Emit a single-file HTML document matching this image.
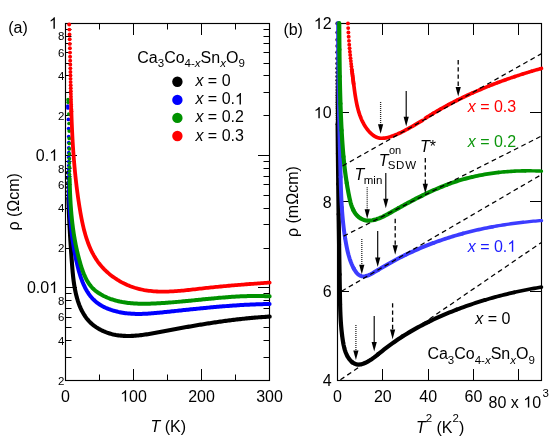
<!DOCTYPE html>
<html><head><meta charset="utf-8"><title>fig</title>
<style>html,body{margin:0;padding:0;background:#fff}body{width:556px;height:441px;overflow:hidden;position:relative;font-family:"Liberation Sans",sans-serif}</style></head>
<body>
<svg width="556" height="441" viewBox="0 0 556 441" style="position:absolute;left:0;top:0;will-change:transform">
<rect width="556" height="441" fill="#fff"/>
<g>
<rect x="65.50" y="23.50" width="204.00" height="357.00" fill="none" stroke="#000" stroke-width="1.15"/>
<line x1="133.50" y1="380.50" x2="133.50" y2="369.00" stroke="#000" stroke-width="1"/>
<line x1="133.50" y1="23.50" x2="133.50" y2="35.00" stroke="#000" stroke-width="1"/>
<line x1="201.50" y1="380.50" x2="201.50" y2="369.00" stroke="#000" stroke-width="1"/>
<line x1="201.50" y1="23.50" x2="201.50" y2="35.00" stroke="#000" stroke-width="1"/>
<line x1="99.50" y1="380.50" x2="99.50" y2="374.50" stroke="#000" stroke-width="1"/>
<line x1="99.50" y1="23.50" x2="99.50" y2="29.50" stroke="#000" stroke-width="1"/>
<line x1="167.50" y1="380.50" x2="167.50" y2="374.50" stroke="#000" stroke-width="1"/>
<line x1="167.50" y1="23.50" x2="167.50" y2="29.50" stroke="#000" stroke-width="1"/>
<line x1="235.50" y1="380.50" x2="235.50" y2="374.50" stroke="#000" stroke-width="1"/>
<line x1="235.50" y1="23.50" x2="235.50" y2="29.50" stroke="#000" stroke-width="1"/>
<line x1="65.50" y1="23.50" x2="77.00" y2="23.50" stroke="#000" stroke-width="1"/>
<line x1="269.50" y1="23.50" x2="258.00" y2="23.50" stroke="#000" stroke-width="1"/>
<line x1="65.50" y1="155.50" x2="77.00" y2="155.50" stroke="#000" stroke-width="1"/>
<line x1="269.50" y1="155.50" x2="258.00" y2="155.50" stroke="#000" stroke-width="1"/>
<line x1="65.50" y1="115.50" x2="71.50" y2="115.50" stroke="#000" stroke-width="1"/>
<line x1="269.50" y1="115.50" x2="263.50" y2="115.50" stroke="#000" stroke-width="1"/>
<line x1="65.50" y1="92.50" x2="71.50" y2="92.50" stroke="#000" stroke-width="1"/>
<line x1="269.50" y1="92.50" x2="263.50" y2="92.50" stroke="#000" stroke-width="1"/>
<line x1="65.50" y1="75.50" x2="71.50" y2="75.50" stroke="#000" stroke-width="1"/>
<line x1="269.50" y1="75.50" x2="263.50" y2="75.50" stroke="#000" stroke-width="1"/>
<line x1="65.50" y1="63.50" x2="71.50" y2="63.50" stroke="#000" stroke-width="1"/>
<line x1="269.50" y1="63.50" x2="263.50" y2="63.50" stroke="#000" stroke-width="1"/>
<line x1="65.50" y1="52.50" x2="71.50" y2="52.50" stroke="#000" stroke-width="1"/>
<line x1="269.50" y1="52.50" x2="263.50" y2="52.50" stroke="#000" stroke-width="1"/>
<line x1="65.50" y1="43.50" x2="71.50" y2="43.50" stroke="#000" stroke-width="1"/>
<line x1="269.50" y1="43.50" x2="263.50" y2="43.50" stroke="#000" stroke-width="1"/>
<line x1="65.50" y1="36.50" x2="71.50" y2="36.50" stroke="#000" stroke-width="1"/>
<line x1="269.50" y1="36.50" x2="263.50" y2="36.50" stroke="#000" stroke-width="1"/>
<line x1="65.50" y1="29.50" x2="71.50" y2="29.50" stroke="#000" stroke-width="1"/>
<line x1="269.50" y1="29.50" x2="263.50" y2="29.50" stroke="#000" stroke-width="1"/>
<line x1="65.50" y1="287.50" x2="77.00" y2="287.50" stroke="#000" stroke-width="1"/>
<line x1="269.50" y1="287.50" x2="258.00" y2="287.50" stroke="#000" stroke-width="1"/>
<line x1="65.50" y1="248.50" x2="71.50" y2="248.50" stroke="#000" stroke-width="1"/>
<line x1="269.50" y1="248.50" x2="263.50" y2="248.50" stroke="#000" stroke-width="1"/>
<line x1="65.50" y1="224.50" x2="71.50" y2="224.50" stroke="#000" stroke-width="1"/>
<line x1="269.50" y1="224.50" x2="263.50" y2="224.50" stroke="#000" stroke-width="1"/>
<line x1="65.50" y1="208.50" x2="71.50" y2="208.50" stroke="#000" stroke-width="1"/>
<line x1="269.50" y1="208.50" x2="263.50" y2="208.50" stroke="#000" stroke-width="1"/>
<line x1="65.50" y1="195.50" x2="71.50" y2="195.50" stroke="#000" stroke-width="1"/>
<line x1="269.50" y1="195.50" x2="263.50" y2="195.50" stroke="#000" stroke-width="1"/>
<line x1="65.50" y1="184.50" x2="71.50" y2="184.50" stroke="#000" stroke-width="1"/>
<line x1="269.50" y1="184.50" x2="263.50" y2="184.50" stroke="#000" stroke-width="1"/>
<line x1="65.50" y1="176.50" x2="71.50" y2="176.50" stroke="#000" stroke-width="1"/>
<line x1="269.50" y1="176.50" x2="263.50" y2="176.50" stroke="#000" stroke-width="1"/>
<line x1="65.50" y1="168.50" x2="71.50" y2="168.50" stroke="#000" stroke-width="1"/>
<line x1="269.50" y1="168.50" x2="263.50" y2="168.50" stroke="#000" stroke-width="1"/>
<line x1="65.50" y1="161.50" x2="71.50" y2="161.50" stroke="#000" stroke-width="1"/>
<line x1="269.50" y1="161.50" x2="263.50" y2="161.50" stroke="#000" stroke-width="1"/>
<line x1="65.50" y1="380.50" x2="71.50" y2="380.50" stroke="#000" stroke-width="1"/>
<line x1="269.50" y1="380.50" x2="263.50" y2="380.50" stroke="#000" stroke-width="1"/>
<line x1="65.50" y1="357.50" x2="71.50" y2="357.50" stroke="#000" stroke-width="1"/>
<line x1="269.50" y1="357.50" x2="263.50" y2="357.50" stroke="#000" stroke-width="1"/>
<line x1="65.50" y1="340.50" x2="71.50" y2="340.50" stroke="#000" stroke-width="1"/>
<line x1="269.50" y1="340.50" x2="263.50" y2="340.50" stroke="#000" stroke-width="1"/>
<line x1="65.50" y1="327.50" x2="71.50" y2="327.50" stroke="#000" stroke-width="1"/>
<line x1="269.50" y1="327.50" x2="263.50" y2="327.50" stroke="#000" stroke-width="1"/>
<line x1="65.50" y1="317.50" x2="71.50" y2="317.50" stroke="#000" stroke-width="1"/>
<line x1="269.50" y1="317.50" x2="263.50" y2="317.50" stroke="#000" stroke-width="1"/>
<line x1="65.50" y1="308.50" x2="71.50" y2="308.50" stroke="#000" stroke-width="1"/>
<line x1="269.50" y1="308.50" x2="263.50" y2="308.50" stroke="#000" stroke-width="1"/>
<line x1="65.50" y1="300.50" x2="71.50" y2="300.50" stroke="#000" stroke-width="1"/>
<line x1="269.50" y1="300.50" x2="263.50" y2="300.50" stroke="#000" stroke-width="1"/>
<line x1="65.50" y1="293.50" x2="71.50" y2="293.50" stroke="#000" stroke-width="1"/>
<line x1="269.50" y1="293.50" x2="263.50" y2="293.50" stroke="#000" stroke-width="1"/>
<circle cx="67.74" cy="172.70" r="1.90" fill="#000000"/><circle cx="67.83" cy="178.00" r="1.90" fill="#000000"/><circle cx="67.93" cy="183.00" r="1.90" fill="#000000"/><circle cx="68.04" cy="187.50" r="1.90" fill="#000000"/><circle cx="68.15" cy="191.50" r="1.90" fill="#000000"/><circle cx="68.25" cy="195.00" r="1.90" fill="#000000"/><circle cx="68.35" cy="198.00" r="1.90" fill="#000000"/>
<path d="M68.36,198.49 L68.41,199.82 L68.46,201.14 L68.50,202.47 L68.55,203.80 L68.60,205.12 L68.65,206.45 L68.71,207.77 L68.76,209.10 L68.82,210.42 L68.87,211.75 L68.93,213.07 L68.99,214.39 L69.05,215.72 L69.11,217.04 L69.17,218.36 L69.24,219.68 L69.30,221.00 L69.37,222.33 L69.44,223.65 L69.50,224.97 L69.57,226.29 L69.64,227.61 L69.72,228.93 L69.79,230.26 L69.86,231.58 L69.94,232.90 L70.02,234.22 L70.09,235.54 L70.17,236.87 L70.25,238.19 L70.33,239.51 L70.41,240.84 L70.50,242.16 L70.58,243.49 L70.67,244.81 L70.75,246.14 L70.84,247.46 L70.93,248.79 L71.02,250.12 L71.11,251.45 L71.20,252.78 L71.30,254.11 L71.39,255.44 L71.49,256.77 L71.58,258.10 L71.68,259.43 L71.78,260.77 L71.88,262.11 L71.98,263.44 L72.08,264.78 L72.18,266.12 L72.29,267.46 L72.40,268.80 L72.51,270.14 L72.63,271.48 L72.75,272.83 L72.88,274.17 L73.01,275.52 L73.16,276.87 L73.31,278.22 L73.47,279.57 L73.64,280.92 L73.83,282.27 L74.02,283.63 L74.23,284.98 L74.45,286.34 L74.68,287.69 L74.93,289.05 L75.19,290.40 L75.47,291.75 L75.77,293.10 L76.08,294.44 L76.41,295.78 L76.76,297.11 L77.13,298.43 L77.52,299.74 L77.92,301.05 L78.35,302.34 L78.80,303.62 L79.27,304.89 L79.77,306.14 L80.29,307.38 L80.83,308.60 L81.40,309.80 L81.99,310.99 L82.61,312.15 L83.25,313.30 L83.92,314.42 L84.62,315.52 L85.35,316.60 L86.11,317.66 L86.90,318.69 L87.72,319.69 L88.56,320.66 L89.45,321.61 L90.36,322.52 L91.30,323.41 L92.28,324.27 L93.28,325.09 L94.31,325.89 L95.37,326.65 L96.45,327.39 L97.55,328.09 L98.68,328.77 L99.82,329.41 L100.99,330.02 L102.17,330.60 L103.37,331.16 L104.58,331.67 L105.80,332.16 L107.04,332.62 L108.29,333.05 L109.54,333.44 L110.81,333.81 L112.08,334.14 L113.35,334.44 L114.63,334.71 L115.91,334.96 L117.20,335.17 L118.50,335.36 L119.80,335.52 L121.10,335.65 L122.41,335.76 L123.72,335.85 L125.03,335.91 L126.35,335.95 L127.67,335.96 L129.00,335.96 L130.32,335.94 L131.65,335.89 L132.98,335.83 L134.32,335.75 L135.66,335.66 L137.00,335.55 L138.34,335.42 L139.68,335.28 L141.02,335.13 L142.37,334.96 L143.71,334.78 L145.06,334.59 L146.41,334.39 L147.75,334.19 L149.10,333.97 L150.45,333.74 L151.80,333.51 L153.14,333.27 L154.49,333.03 L155.84,332.78 L157.18,332.53 L158.53,332.28 L159.87,332.03 L161.21,331.77 L162.55,331.51 L163.89,331.26 L165.22,331.00 L166.56,330.75 L167.89,330.50 L169.22,330.25 L170.55,330.00 L171.87,329.75 L173.20,329.50 L174.52,329.25 L175.84,329.01 L177.16,328.76 L178.48,328.52 L179.80,328.28 L181.12,328.04 L182.43,327.80 L183.75,327.56 L185.06,327.32 L186.37,327.09 L187.69,326.86 L189.00,326.63 L190.31,326.40 L191.62,326.17 L192.92,325.94 L194.23,325.72 L195.54,325.49 L196.85,325.27 L198.15,325.05 L199.46,324.83 L200.76,324.62 L202.07,324.40 L203.37,324.19 L204.68,323.98 L205.98,323.77 L207.29,323.56 L208.59,323.36 L209.90,323.15 L211.20,322.95 L212.51,322.75 L213.82,322.56 L215.12,322.36 L216.43,322.17 L217.74,321.98 L219.04,321.79 L220.35,321.60 L221.66,321.42 L222.97,321.24 L224.28,321.06 L225.59,320.88 L226.90,320.71 L228.21,320.54 L229.53,320.37 L230.84,320.20 L232.16,320.04 L233.47,319.87 L234.79,319.72 L236.11,319.56 L237.43,319.40 L238.76,319.25 L240.08,319.10 L241.40,318.96 L242.73,318.82 L244.06,318.67 L245.39,318.54 L246.72,318.40 L248.06,318.27 L249.39,318.14 L250.73,318.02 L252.07,317.89 L253.41,317.77 L254.75,317.65 L256.10,317.54 L257.45,317.43 L258.80,317.32 L260.15,317.22 L261.51,317.11 L262.86,317.02 L264.22,316.92 L265.59,316.83 L266.95,316.74 L268.32,316.66 L269.69,316.57" fill="none" stroke="#000000" stroke-width="4.10" stroke-linecap="round" stroke-linejoin="round"/>
<circle cx="67.82" cy="106.10" r="1.85" fill="#0000ff"/><circle cx="67.92" cy="108.00" r="1.85" fill="#0000ff"/><circle cx="68.40" cy="119.40" r="1.85" fill="#0000ff"/><circle cx="68.62" cy="128.50" r="1.85" fill="#0000ff"/><circle cx="68.73" cy="136.50" r="1.85" fill="#0000ff"/><circle cx="68.77" cy="142.50" r="1.85" fill="#0000ff"/><circle cx="68.79" cy="147.80" r="1.85" fill="#0000ff"/><circle cx="68.79" cy="152.70" r="1.85" fill="#0000ff"/><circle cx="68.79" cy="157.30" r="1.85" fill="#0000ff"/><circle cx="68.79" cy="161.60" r="1.85" fill="#0000ff"/><circle cx="68.79" cy="165.60" r="1.85" fill="#0000ff"/><circle cx="68.80" cy="169.40" r="1.85" fill="#0000ff"/><circle cx="68.81" cy="173.00" r="1.85" fill="#0000ff"/><circle cx="68.82" cy="176.40" r="1.85" fill="#0000ff"/><circle cx="68.85" cy="179.60" r="1.85" fill="#0000ff"/><circle cx="68.88" cy="182.60" r="1.85" fill="#0000ff"/><circle cx="68.92" cy="185.50" r="1.85" fill="#0000ff"/><circle cx="68.97" cy="188.20" r="1.85" fill="#0000ff"/>
<path d="M69.01,190.63 L69.05,192.09 L69.08,193.54 L69.12,195.00 L69.16,196.45 L69.21,197.91 L69.26,199.37 L69.31,200.82 L69.37,202.28 L69.43,203.73 L69.50,205.19 L69.57,206.64 L69.64,208.10 L69.72,209.56 L69.80,211.01 L69.89,212.47 L69.98,213.92 L70.08,215.38 L70.18,216.83 L70.29,218.29 L70.40,219.74 L70.52,221.20 L70.64,222.65 L70.78,224.11 L70.91,225.56 L71.05,227.02 L71.20,228.47 L71.36,229.93 L71.52,231.38 L71.69,232.83 L71.86,234.29 L72.04,235.74 L72.23,237.20 L72.43,238.65 L72.63,240.11 L72.84,241.56 L73.06,243.02 L73.28,244.47 L73.52,245.93 L73.76,247.38 L74.01,248.83 L74.26,250.29 L74.53,251.74 L74.80,253.20 L75.08,254.65 L75.38,256.11 L75.68,257.56 L75.99,259.01 L76.30,260.47 L76.63,261.92 L76.97,263.38 L77.31,264.83 L77.67,266.28 L78.04,267.74 L78.41,269.19 L78.80,270.64 L79.21,272.08 L79.63,273.51 L80.06,274.94 L80.51,276.36 L80.98,277.77 L81.47,279.17 L81.98,280.55 L82.51,281.92 L83.07,283.27 L83.64,284.61 L84.25,285.93 L84.87,287.23 L85.53,288.51 L86.21,289.76 L86.92,290.99 L87.66,292.20 L88.43,293.38 L89.24,294.53 L90.07,295.66 L90.94,296.75 L91.85,297.81 L92.80,298.84 L93.78,299.83 L94.80,300.79 L95.86,301.71 L96.96,302.60 L98.09,303.45 L99.26,304.26 L100.47,305.03 L101.71,305.76 L102.98,306.46 L104.28,307.12 L105.60,307.75 L106.95,308.34 L108.31,308.90 L109.70,309.42 L111.10,309.91 L112.52,310.37 L113.95,310.80 L115.38,311.19 L116.83,311.56 L118.28,311.90 L119.73,312.20 L121.18,312.48 L122.63,312.73 L124.08,312.95 L125.54,313.15 L126.99,313.33 L128.44,313.47 L129.90,313.60 L131.35,313.70 L132.80,313.79 L134.26,313.85 L135.71,313.89 L137.17,313.92 L138.62,313.92 L140.08,313.92 L141.54,313.89 L142.99,313.85 L144.45,313.80 L145.90,313.73 L147.36,313.65 L148.81,313.56 L150.27,313.46 L151.72,313.35 L153.18,313.23 L154.63,313.11 L156.09,312.98 L157.55,312.84 L159.00,312.70 L160.45,312.55 L161.91,312.40 L163.36,312.25 L164.82,312.10 L166.27,311.95 L167.72,311.80 L169.18,311.64 L170.63,311.49 L172.08,311.34 L173.54,311.19 L174.99,311.03 L176.44,310.88 L177.89,310.73 L179.34,310.57 L180.80,310.42 L182.25,310.27 L183.70,310.11 L185.15,309.96 L186.60,309.81 L188.05,309.66 L189.50,309.51 L190.95,309.36 L192.41,309.21 L193.86,309.06 L195.31,308.91 L196.76,308.77 L198.21,308.62 L199.66,308.48 L201.11,308.33 L202.56,308.19 L204.01,308.05 L205.46,307.91 L206.92,307.77 L208.37,307.63 L209.82,307.50 L211.27,307.36 L212.72,307.23 L214.17,307.10 L215.63,306.97 L217.08,306.84 L218.53,306.72 L219.98,306.60 L221.44,306.47 L222.89,306.36 L224.34,306.24 L225.80,306.12 L227.25,306.01 L228.70,305.90 L230.16,305.79 L231.61,305.69 L233.07,305.58 L234.52,305.48 L235.98,305.39 L237.44,305.29 L238.89,305.20 L240.35,305.11 L241.81,305.02 L243.27,304.94 L244.72,304.86 L246.18,304.78 L247.64,304.71 L249.10,304.64 L250.56,304.57 L252.02,304.50 L253.48,304.44 L254.95,304.39 L256.41,304.33 L257.87,304.28 L259.33,304.23 L260.80,304.19 L262.26,304.15 L263.73,304.12 L265.19,304.09 L266.66,304.06 L268.13,304.04 L269.59,304.02" fill="none" stroke="#0000ff" stroke-width="4.00" stroke-linecap="round" stroke-linejoin="round"/>
<circle cx="68.04" cy="99.70" r="1.85" fill="#009200"/><circle cx="68.20" cy="102.30" r="1.85" fill="#009200"/><circle cx="68.77" cy="114.10" r="1.85" fill="#009200"/><circle cx="69.06" cy="123.50" r="1.85" fill="#009200"/><circle cx="69.20" cy="131.10" r="1.85" fill="#009200"/><circle cx="69.28" cy="138.40" r="1.85" fill="#009200"/><circle cx="69.32" cy="143.50" r="1.85" fill="#009200"/><circle cx="69.35" cy="148.90" r="1.85" fill="#009200"/><circle cx="69.37" cy="153.90" r="1.85" fill="#009200"/><circle cx="69.40" cy="158.80" r="1.85" fill="#009200"/><circle cx="69.42" cy="163.10" r="1.85" fill="#009200"/><circle cx="69.46" cy="167.20" r="1.85" fill="#009200"/><circle cx="69.50" cy="171.00" r="1.85" fill="#009200"/><circle cx="69.55" cy="174.60" r="1.85" fill="#009200"/><circle cx="69.61" cy="178.00" r="1.85" fill="#009200"/>
<path d="M69.63,179.04 L69.66,180.48 L69.69,181.93 L69.73,183.37 L69.76,184.82 L69.81,186.27 L69.85,187.71 L69.90,189.16 L69.95,190.60 L70.01,192.05 L70.07,193.49 L70.13,194.93 L70.20,196.38 L70.27,197.82 L70.34,199.26 L70.42,200.70 L70.50,202.14 L70.59,203.58 L70.69,205.02 L70.78,206.46 L70.89,207.90 L71.00,209.34 L71.11,210.78 L71.23,212.21 L71.35,213.65 L71.48,215.08 L71.62,216.52 L71.76,217.95 L71.91,219.38 L72.06,220.82 L72.22,222.25 L72.39,223.68 L72.57,225.11 L72.75,226.54 L72.93,227.97 L73.13,229.39 L73.33,230.82 L73.54,232.24 L73.75,233.67 L73.98,235.09 L74.21,236.51 L74.45,237.93 L74.70,239.35 L74.95,240.77 L75.22,242.19 L75.49,243.60 L75.77,245.02 L76.06,246.43 L76.36,247.85 L76.66,249.26 L76.98,250.67 L77.31,252.08 L77.64,253.48 L77.98,254.89 L78.34,256.30 L78.70,257.70 L79.07,259.10 L79.46,260.50 L79.85,261.90 L80.25,263.30 L80.67,264.70 L81.09,266.09 L81.53,267.48 L81.99,268.86 L82.46,270.24 L82.95,271.60 L83.47,272.95 L84.00,274.29 L84.57,275.61 L85.16,276.92 L85.78,278.20 L86.43,279.46 L87.11,280.70 L87.83,281.92 L88.59,283.10 L89.39,284.26 L90.23,285.38 L91.12,286.47 L92.05,287.53 L93.02,288.55 L94.05,289.53 L95.13,290.47 L96.26,291.36 L97.44,292.22 L98.65,293.03 L99.89,293.81 L101.14,294.55 L102.40,295.25 L103.67,295.92 L104.96,296.56 L106.25,297.16 L107.56,297.73 L108.88,298.27 L110.20,298.78 L111.54,299.26 L112.89,299.70 L114.24,300.12 L115.60,300.52 L116.98,300.88 L118.36,301.22 L119.74,301.54 L121.14,301.82 L122.54,302.09 L123.95,302.33 L125.36,302.55 L126.78,302.75 L128.21,302.93 L129.64,303.09 L131.07,303.23 L132.51,303.35 L133.96,303.45 L135.40,303.54 L136.85,303.61 L138.31,303.66 L139.76,303.70 L141.22,303.73 L142.68,303.74 L144.14,303.75 L145.60,303.74 L147.06,303.72 L148.53,303.69 L149.99,303.65 L151.45,303.60 L152.92,303.54 L154.38,303.48 L155.84,303.42 L157.29,303.34 L158.75,303.27 L160.21,303.18 L161.66,303.10 L163.11,303.00 L164.56,302.91 L166.01,302.81 L167.46,302.70 L168.90,302.60 L170.35,302.49 L171.79,302.37 L173.23,302.25 L174.67,302.13 L176.11,302.01 L177.55,301.88 L178.99,301.76 L180.42,301.63 L181.86,301.49 L183.29,301.36 L184.73,301.22 L186.16,301.08 L187.59,300.94 L189.02,300.80 L190.45,300.66 L191.88,300.52 L193.31,300.37 L194.74,300.23 L196.17,300.09 L197.60,299.94 L199.03,299.80 L200.46,299.65 L201.88,299.51 L203.31,299.36 L204.74,299.22 L206.16,299.08 L207.59,298.94 L209.02,298.80 L210.45,298.66 L211.87,298.52 L213.30,298.39 L214.73,298.25 L216.16,298.12 L217.58,297.99 L219.01,297.86 L220.44,297.74 L221.87,297.62 L223.30,297.50 L224.73,297.39 L226.16,297.27 L227.59,297.16 L229.03,297.06 L230.46,296.96 L231.89,296.86 L233.33,296.77 L234.76,296.68 L236.20,296.60 L237.64,296.52 L239.08,296.44 L240.52,296.37 L241.96,296.31 L243.40,296.25 L244.84,296.20 L246.29,296.15 L247.73,296.11 L249.18,296.07 L250.63,296.04 L252.08,296.02 L253.53,296.01 L254.99,296.00 L256.44,296.00 L257.90,296.00 L259.36,296.01 L260.82,296.03 L262.28,296.06 L263.75,296.10 L265.21,296.14 L266.68,296.19 L268.15,296.25 L269.62,296.32" fill="none" stroke="#009200" stroke-width="4.00" stroke-linecap="round" stroke-linejoin="round"/>
<circle cx="69.20" cy="24.50" r="1.95" fill="#ff0000"/><circle cx="69.38" cy="29.60" r="1.95" fill="#ff0000"/><circle cx="69.54" cy="34.53" r="1.95" fill="#ff0000"/><circle cx="69.68" cy="39.29" r="1.95" fill="#ff0000"/><circle cx="69.81" cy="43.88" r="1.95" fill="#ff0000"/><circle cx="69.92" cy="48.32" r="1.95" fill="#ff0000"/><circle cx="70.02" cy="52.61" r="1.95" fill="#ff0000"/><circle cx="70.11" cy="56.76" r="1.95" fill="#ff0000"/><circle cx="70.20" cy="60.76" r="1.95" fill="#ff0000"/><circle cx="70.28" cy="64.63" r="1.95" fill="#ff0000"/><circle cx="70.35" cy="68.36" r="1.95" fill="#ff0000"/><circle cx="70.42" cy="71.97" r="1.95" fill="#ff0000"/><circle cx="70.49" cy="75.46" r="1.95" fill="#ff0000"/><circle cx="70.56" cy="78.83" r="1.95" fill="#ff0000"/><circle cx="70.62" cy="82.08" r="1.95" fill="#ff0000"/><circle cx="70.69" cy="85.22" r="1.95" fill="#ff0000"/><circle cx="70.75" cy="88.26" r="1.95" fill="#ff0000"/><circle cx="70.82" cy="91.19" r="1.95" fill="#ff0000"/><circle cx="70.88" cy="94.02" r="1.95" fill="#ff0000"/><circle cx="70.95" cy="96.76" r="1.95" fill="#ff0000"/><circle cx="71.01" cy="99.40" r="1.95" fill="#ff0000"/><circle cx="71.08" cy="101.95" r="1.95" fill="#ff0000"/><circle cx="71.15" cy="104.42" r="1.95" fill="#ff0000"/><circle cx="71.22" cy="106.80" r="1.95" fill="#ff0000"/><circle cx="71.28" cy="109.11" r="1.95" fill="#ff0000"/><circle cx="71.35" cy="111.33" r="1.95" fill="#ff0000"/>
<path d="M71.29,109.41 L71.34,111.03 L71.40,112.65 L71.45,114.27 L71.50,115.89 L71.56,117.51 L71.62,119.13 L71.68,120.75 L71.74,122.37 L71.81,123.99 L71.88,125.61 L71.95,127.23 L72.02,128.85 L72.09,130.47 L72.17,132.08 L72.25,133.70 L72.33,135.32 L72.41,136.94 L72.50,138.56 L72.59,140.18 L72.68,141.80 L72.78,143.42 L72.88,145.04 L72.98,146.66 L73.08,148.28 L73.19,149.90 L73.30,151.53 L73.42,153.15 L73.53,154.77 L73.66,156.39 L73.78,158.01 L73.91,159.64 L74.04,161.26 L74.18,162.89 L74.32,164.51 L74.46,166.14 L74.61,167.76 L74.76,169.39 L74.92,171.02 L75.07,172.64 L75.24,174.27 L75.41,175.90 L75.58,177.53 L75.76,179.16 L75.94,180.79 L76.12,182.42 L76.32,184.06 L76.51,185.69 L76.71,187.32 L76.92,188.96 L77.13,190.59 L77.34,192.23 L77.56,193.87 L77.79,195.51 L78.02,197.15 L78.25,198.79 L78.49,200.43 L78.74,202.07 L78.99,203.71 L79.25,205.36 L79.51,207.00 L79.78,208.65 L80.05,210.30 L80.33,211.95 L80.62,213.59 L80.92,215.24 L81.22,216.89 L81.54,218.53 L81.86,220.17 L82.19,221.81 L82.54,223.44 L82.90,225.07 L83.27,226.70 L83.66,228.32 L84.06,229.93 L84.48,231.53 L84.91,233.12 L85.36,234.71 L85.83,236.29 L86.32,237.85 L86.83,239.41 L87.36,240.96 L87.91,242.49 L88.48,244.01 L89.07,245.51 L89.69,247.00 L90.33,248.48 L91.00,249.94 L91.69,251.39 L92.41,252.82 L93.16,254.23 L93.93,255.62 L94.74,256.99 L95.57,258.35 L96.43,259.68 L97.33,261.00 L98.26,262.29 L99.22,263.56 L100.21,264.80 L101.24,266.03 L102.30,267.22 L103.39,268.40 L104.51,269.55 L105.66,270.67 L106.83,271.77 L108.04,272.85 L109.27,273.90 L110.53,274.92 L111.81,275.91 L113.11,276.88 L114.44,277.81 L115.78,278.72 L117.15,279.60 L118.54,280.45 L119.94,281.27 L121.37,282.07 L122.81,282.83 L124.26,283.56 L125.73,284.25 L127.22,284.92 L128.71,285.55 L130.22,286.16 L131.74,286.72 L133.27,287.26 L134.81,287.76 L136.35,288.22 L137.91,288.66 L139.47,289.05 L141.03,289.42 L142.61,289.75 L144.18,290.06 L145.77,290.33 L147.36,290.57 L148.96,290.79 L150.56,290.98 L152.16,291.14 L153.77,291.28 L155.39,291.39 L157.01,291.48 L158.63,291.55 L160.26,291.60 L161.89,291.62 L163.52,291.63 L165.16,291.61 L166.80,291.58 L168.44,291.54 L170.08,291.47 L171.72,291.40 L173.37,291.31 L175.02,291.20 L176.67,291.08 L178.32,290.96 L179.97,290.82 L181.62,290.67 L183.27,290.52 L184.92,290.35 L186.57,290.18 L188.22,290.01 L189.87,289.83 L191.52,289.64 L193.16,289.46 L194.81,289.27 L196.45,289.08 L198.09,288.89 L199.73,288.71 L201.36,288.52 L202.99,288.34 L204.62,288.16 L206.25,287.98 L207.88,287.80 L209.50,287.63 L211.12,287.46 L212.74,287.29 L214.36,287.13 L215.97,286.97 L217.59,286.81 L219.20,286.65 L220.81,286.49 L222.42,286.34 L224.04,286.19 L225.65,286.04 L227.26,285.89 L228.87,285.74 L230.48,285.60 L232.09,285.46 L233.70,285.32 L235.31,285.18 L236.93,285.04 L238.54,284.91 L240.16,284.78 L241.77,284.65 L243.39,284.52 L245.01,284.39 L246.64,284.26 L248.26,284.14 L249.89,284.01 L251.52,283.89 L253.15,283.77 L254.78,283.65 L256.42,283.53 L258.06,283.41 L259.71,283.29 L261.35,283.18 L263.00,283.06 L264.66,282.95 L266.32,282.84 L267.98,282.72 L269.65,282.61" fill="none" stroke="#ff0000" stroke-width="3.80" stroke-linecap="round" stroke-linejoin="round"/>
</g>
<g>
<rect x="337.50" y="23.50" width="204.00" height="357.00" fill="none" stroke="#000" stroke-width="1.15"/>
<line x1="382.50" y1="380.50" x2="382.50" y2="369.00" stroke="#000" stroke-width="1"/>
<line x1="382.50" y1="23.50" x2="382.50" y2="35.00" stroke="#000" stroke-width="1"/>
<line x1="428.50" y1="380.50" x2="428.50" y2="369.00" stroke="#000" stroke-width="1"/>
<line x1="428.50" y1="23.50" x2="428.50" y2="35.00" stroke="#000" stroke-width="1"/>
<line x1="473.50" y1="380.50" x2="473.50" y2="369.00" stroke="#000" stroke-width="1"/>
<line x1="473.50" y1="23.50" x2="473.50" y2="35.00" stroke="#000" stroke-width="1"/>
<line x1="518.50" y1="380.50" x2="518.50" y2="369.00" stroke="#000" stroke-width="1"/>
<line x1="518.50" y1="23.50" x2="518.50" y2="35.00" stroke="#000" stroke-width="1"/>
<line x1="337.50" y1="291.50" x2="349.00" y2="291.50" stroke="#000" stroke-width="1"/>
<line x1="541.50" y1="291.50" x2="530.00" y2="291.50" stroke="#000" stroke-width="1"/>
<line x1="337.50" y1="201.50" x2="349.00" y2="201.50" stroke="#000" stroke-width="1"/>
<line x1="541.50" y1="201.50" x2="530.00" y2="201.50" stroke="#000" stroke-width="1"/>
<line x1="337.50" y1="112.50" x2="349.00" y2="112.50" stroke="#000" stroke-width="1"/>
<line x1="541.50" y1="112.50" x2="530.00" y2="112.50" stroke="#000" stroke-width="1"/>
<circle cx="337.40" cy="23.40" r="2.00" fill="#000000"/><circle cx="337.37" cy="32.40" r="2.00" fill="#000000"/><circle cx="337.35" cy="39.80" r="2.00" fill="#000000"/><circle cx="337.35" cy="46.00" r="2.00" fill="#000000"/><circle cx="337.34" cy="52.20" r="2.00" fill="#000000"/><circle cx="337.34" cy="58.50" r="2.00" fill="#000000"/><circle cx="337.35" cy="63.50" r="2.00" fill="#000000"/><circle cx="337.36" cy="68.15" r="2.00" fill="#000000"/><circle cx="337.37" cy="72.47" r="2.00" fill="#000000"/><circle cx="337.38" cy="76.50" r="2.00" fill="#000000"/><circle cx="337.39" cy="80.24" r="2.00" fill="#000000"/><circle cx="337.40" cy="83.71" r="2.00" fill="#000000"/><circle cx="337.41" cy="86.95" r="2.00" fill="#000000"/><circle cx="337.43" cy="89.96" r="2.00" fill="#000000"/><circle cx="337.44" cy="92.76" r="2.00" fill="#000000"/><circle cx="337.45" cy="95.36" r="2.00" fill="#000000"/><circle cx="337.46" cy="97.78" r="2.00" fill="#000000"/><circle cx="337.48" cy="100.03" r="2.00" fill="#000000"/><circle cx="337.49" cy="102.23" r="2.00" fill="#000000"/><circle cx="337.50" cy="104.43" r="2.00" fill="#000000"/><circle cx="337.51" cy="106.63" r="2.00" fill="#000000"/><circle cx="337.53" cy="108.83" r="2.00" fill="#000000"/><circle cx="337.54" cy="111.03" r="2.00" fill="#000000"/><circle cx="337.56" cy="113.23" r="2.00" fill="#000000"/><circle cx="337.57" cy="115.43" r="2.00" fill="#000000"/><circle cx="337.59" cy="117.63" r="2.00" fill="#000000"/><circle cx="337.60" cy="119.83" r="2.00" fill="#000000"/><circle cx="337.62" cy="122.03" r="2.00" fill="#000000"/><circle cx="337.64" cy="124.23" r="2.00" fill="#000000"/>
<path d="M337.63,123.48 L337.65,126.01 L337.67,128.53 L337.69,131.05 L337.71,133.57 L337.73,136.09 L337.76,138.62 L337.78,141.14 L337.80,143.66 L337.83,146.19 L337.85,148.71 L337.88,151.23 L337.90,153.75" fill="none" stroke="#000000" stroke-width="4.20" stroke-linecap="round" stroke-linejoin="round"/>
<path d="M337.90,153.75 L337.93,156.28 L337.96,158.80 L337.98,161.32 L338.01,163.84 L338.04,166.37 L338.07,168.89 L338.10,171.41 L338.13,173.93 L338.16,176.46 L338.19,178.98 L338.22,181.50 L338.25,184.02" fill="none" stroke="#000000" stroke-width="4.20" stroke-linecap="round" stroke-linejoin="round"/>
<path d="M338.25,184.02 L338.28,186.54 L338.31,189.06 L338.34,191.58 L338.38,194.10 L338.41,196.62 L338.44,199.14 L338.48,201.66 L338.51,204.18 L338.55,206.70 L338.58,209.21 L338.62,211.73 L338.65,214.25" fill="none" stroke="#000000" stroke-width="4.20" stroke-linecap="round" stroke-linejoin="round"/>
<path d="M338.65,214.25 L338.69,216.76 L338.72,219.28 L338.76,221.79 L338.80,224.30 L338.83,226.82 L338.87,229.33 L338.91,231.84 L338.95,234.35 L338.98,236.86 L339.02,239.37 L339.06,241.88 L339.10,244.39" fill="none" stroke="#000000" stroke-width="4.20" stroke-linecap="round" stroke-linejoin="round"/>
<path d="M339.10,244.39 L339.14,246.90 L339.18,249.41 L339.22,251.91 L339.26,254.42 L339.30,256.92 L339.34,259.42 L339.38,261.93 L339.42,264.43 L339.46,266.93 L339.50,269.43 L339.54,271.92 L339.58,274.42" fill="none" stroke="#000000" stroke-width="4.20" stroke-linecap="round" stroke-linejoin="round"/>
<path d="M339.58,274.42 L339.62,276.92 L339.66,279.41 L339.70,281.91 L339.74,284.40 L339.79,286.89 L339.83,289.38 L339.87,291.87 L339.91,294.36 L339.95,296.84 L340.00,299.33 L340.05,301.82 L340.10,304.31" fill="none" stroke="#000000" stroke-width="4.20" stroke-linecap="round" stroke-linejoin="round"/>
<path d="M340.10,304.31 L340.16,306.80 L340.23,309.29 L340.32,311.79 L340.42,314.30 L340.54,316.81 L340.67,319.33 L340.83,321.86 L341.01,324.39 L341.22,326.94 L341.45,329.50 L341.72,332.08 L342.02,334.67" fill="none" stroke="#000000" stroke-width="4.20" stroke-linecap="round" stroke-linejoin="round"/>
<path d="M342.02,334.67 L342.35,337.27 L342.72,339.89 L343.14,342.50 L343.63,345.10 L344.21,347.65 L344.89,350.13 L345.71,352.52 L346.67,354.81 L347.79,356.95 L349.10,358.95 L350.62,360.76 L352.33,362.33" fill="none" stroke="#000000" stroke-width="4.20" stroke-linecap="round" stroke-linejoin="round"/>
<path d="M352.33,362.33 L354.23,363.57 L356.28,364.38 L358.47,364.65 L360.76,364.42 L363.10,363.78 L365.44,362.81 L367.74,361.63 L369.96,360.30 L372.10,358.88 L374.18,357.38 L376.21,355.82 L378.20,354.22" fill="none" stroke="#000000" stroke-width="4.20" stroke-linecap="round" stroke-linejoin="round"/>
<path d="M378.20,354.22 L380.18,352.62 L382.17,351.02 L384.16,349.44 L386.17,347.89 L388.19,346.36 L390.23,344.86 L392.27,343.38 L394.34,341.92 L396.41,340.49 L398.50,339.09 L400.60,337.70 L402.71,336.34" fill="none" stroke="#000000" stroke-width="4.20" stroke-linecap="round" stroke-linejoin="round"/>
<path d="M402.71,336.34 L404.84,335.00 L406.97,333.69 L409.12,332.39 L411.28,331.12 L413.45,329.87 L415.63,328.64 L417.83,327.43 L420.03,326.24 L422.24,325.07 L424.47,323.92 L426.70,322.79 L428.94,321.68" fill="none" stroke="#000000" stroke-width="4.20" stroke-linecap="round" stroke-linejoin="round"/>
<path d="M428.94,321.68 L431.20,320.58 L433.46,319.51 L435.73,318.45 L438.01,317.41 L440.30,316.39 L442.60,315.39 L444.90,314.40 L447.21,313.43 L449.53,312.47 L451.86,311.53 L454.20,310.61 L456.54,309.70" fill="none" stroke="#000000" stroke-width="4.09" stroke-linecap="round" stroke-linejoin="round"/>
<path d="M456.54,309.70 L458.89,308.80 L461.25,307.92 L463.61,307.06 L465.98,306.21 L468.36,305.38 L470.74,304.56 L473.13,303.75 L475.52,302.96 L477.92,302.19 L480.32,301.43 L482.73,300.68 L485.14,299.95" fill="none" stroke="#000000" stroke-width="3.95" stroke-linecap="round" stroke-linejoin="round"/>
<path d="M485.14,299.95 L487.56,299.23 L489.98,298.53 L492.40,297.84 L494.83,297.17 L497.26,296.51 L499.70,295.87 L502.14,295.24 L504.58,294.63 L507.03,294.03 L509.48,293.44 L511.93,292.87 L514.38,292.31" fill="none" stroke="#000000" stroke-width="3.80" stroke-linecap="round" stroke-linejoin="round"/>
<path d="M514.38,292.31 L516.83,291.77 L519.29,291.24 L521.75,290.73 L524.21,290.23 L526.67,289.74 L529.13,289.27 L531.59,288.82 L534.05,288.37 L536.52,287.94 L538.98,287.53 L541.44,287.13" fill="none" stroke="#000000" stroke-width="3.66" stroke-linecap="round" stroke-linejoin="round"/>
<path d="M338.21,23.01 L338.20,25.06 L338.19,27.11 L338.18,29.16 L338.17,31.21 L338.16,33.26 L338.16,35.31 L338.16,37.36 L338.16,39.41 L338.16,41.46 L338.16,43.52 L338.17,45.57 L338.18,47.62 L338.18,49.67 L338.19,51.72 L338.20,53.78" fill="none" stroke="#3c3cff" stroke-width="4.00" stroke-linecap="round" stroke-linejoin="round"/>
<path d="M338.20,53.78 L338.22,55.83 L338.23,57.88 L338.25,59.94 L338.26,61.99 L338.28,64.04 L338.30,66.10 L338.32,68.15 L338.35,70.20 L338.37,72.26 L338.40,74.31 L338.42,76.37 L338.45,78.42 L338.48,80.47 L338.51,82.53 L338.54,84.58" fill="none" stroke="#3c3cff" stroke-width="4.00" stroke-linecap="round" stroke-linejoin="round"/>
<path d="M338.54,84.58 L338.57,86.64 L338.60,88.69 L338.64,90.75 L338.67,92.80 L338.71,94.86 L338.75,96.91 L338.78,98.97 L338.82,101.02 L338.86,103.08 L338.90,105.13 L338.94,107.19 L338.98,109.24 L339.03,111.30 L339.07,113.35 L339.11,115.40" fill="none" stroke="#3c3cff" stroke-width="4.00" stroke-linecap="round" stroke-linejoin="round"/>
<path d="M339.11,115.40 L339.16,117.46 L339.20,119.51 L339.25,121.57 L339.30,123.62 L339.34,125.68 L339.39,127.73 L339.44,129.79 L339.49,131.84 L339.54,133.89 L339.58,135.95 L339.63,138.00 L339.68,140.06 L339.73,142.11 L339.78,144.16 L339.83,146.22" fill="none" stroke="#3c3cff" stroke-width="4.00" stroke-linecap="round" stroke-linejoin="round"/>
<path d="M339.83,146.22 L339.88,148.27 L339.94,150.32 L339.99,152.38 L340.04,154.43 L340.09,156.48 L340.14,158.53 L340.19,160.58 L340.24,162.64 L340.29,164.69 L340.34,166.74 L340.40,168.79 L340.45,170.84 L340.50,172.89 L340.55,174.94 L340.60,176.99" fill="none" stroke="#3c3cff" stroke-width="4.00" stroke-linecap="round" stroke-linejoin="round"/>
<path d="M340.60,176.99 L340.66,179.04 L340.71,181.09 L340.77,183.14 L340.83,185.19 L340.90,187.24 L340.97,189.29 L341.04,191.33 L341.12,193.38 L341.20,195.43 L341.30,197.48 L341.39,199.52 L341.50,201.57 L341.61,203.61 L341.73,205.66 L341.86,207.70" fill="none" stroke="#3c3cff" stroke-width="4.00" stroke-linecap="round" stroke-linejoin="round"/>
<path d="M341.86,207.70 L341.99,209.75 L342.14,211.79 L342.30,213.83 L342.47,215.87 L342.64,217.92 L342.83,219.96 L343.04,222.00 L343.25,224.04 L343.48,226.08 L343.72,228.12 L343.98,230.16 L344.25,232.19 L344.53,234.23 L344.83,236.27 L345.15,238.30" fill="none" stroke="#3c3cff" stroke-width="4.00" stroke-linecap="round" stroke-linejoin="round"/>
<path d="M345.15,238.30 L345.48,240.34 L345.83,242.37 L346.20,244.41 L346.58,246.44 L346.99,248.47 L347.43,250.50 L347.91,252.52 L348.42,254.53 L348.99,256.54 L349.60,258.54 L350.27,260.52 L351.01,262.50 L351.82,264.46 L352.70,266.40 L353.66,268.32" fill="none" stroke="#3c3cff" stroke-width="4.00" stroke-linecap="round" stroke-linejoin="round"/>
<path d="M353.66,268.32 L354.72,270.16 L355.87,271.88 L357.12,273.40 L358.48,274.66 L359.97,275.60 L361.58,276.17 L363.29,276.37 L365.09,276.23 L366.94,275.80 L368.82,275.10 L370.71,274.20 L372.59,273.18 L374.46,272.11 L376.30,271.03 L378.12,269.96" fill="none" stroke="#3c3cff" stroke-width="4.00" stroke-linecap="round" stroke-linejoin="round"/>
<path d="M378.12,269.96 L379.92,268.89 L381.70,267.83 L383.47,266.78 L385.25,265.73 L387.02,264.70 L388.79,263.68 L390.58,262.67 L392.37,261.68 L394.17,260.70 L395.98,259.73 L397.79,258.77 L399.61,257.82 L401.44,256.89 L403.27,255.97 L405.12,255.06" fill="none" stroke="#3c3cff" stroke-width="4.00" stroke-linecap="round" stroke-linejoin="round"/>
<path d="M405.12,255.06 L406.96,254.17 L408.82,253.29 L410.68,252.42 L412.55,251.56 L414.42,250.71 L416.30,249.88 L418.18,249.06 L420.07,248.25 L421.97,247.46 L423.87,246.67 L425.78,245.90 L427.69,245.14 L429.60,244.40 L431.52,243.66 L433.44,242.94" fill="none" stroke="#3c3cff" stroke-width="4.00" stroke-linecap="round" stroke-linejoin="round"/>
<path d="M433.44,242.94 L435.37,242.23 L437.31,241.53 L439.24,240.85 L441.18,240.18 L443.13,239.51 L445.07,238.87 L447.03,238.23 L448.98,237.60 L450.94,236.99 L452.90,236.39 L454.86,235.80 L456.83,235.22 L458.80,234.66 L460.77,234.11 L462.74,233.56" fill="none" stroke="#3c3cff" stroke-width="3.81" stroke-linecap="round" stroke-linejoin="round"/>
<path d="M462.74,233.56 L464.72,233.03 L466.70,232.51 L468.68,232.01 L470.67,231.51 L472.66,231.02 L474.65,230.55 L476.64,230.08 L478.64,229.63 L480.64,229.19 L482.64,228.76 L484.64,228.34 L486.65,227.93 L488.66,227.53 L490.67,227.14 L492.68,226.76" fill="none" stroke="#3c3cff" stroke-width="3.62" stroke-linecap="round" stroke-linejoin="round"/>
<path d="M492.68,226.76 L494.70,226.39 L496.71,226.03 L498.73,225.68 L500.76,225.35 L502.78,225.02 L504.81,224.70 L506.84,224.39 L508.87,224.09 L510.90,223.80 L512.93,223.52 L514.97,223.24 L517.01,222.98 L519.05,222.73 L521.09,222.48 L523.13,222.25" fill="none" stroke="#3c3cff" stroke-width="3.42" stroke-linecap="round" stroke-linejoin="round"/>
<path d="M523.13,222.25 L525.18,222.02 L527.23,221.80 L529.27,221.59 L531.33,221.39 L533.38,221.20 L535.43,221.02 L537.49,220.84 L539.54,220.68 L541.60,220.52" fill="none" stroke="#3c3cff" stroke-width="3.26" stroke-linecap="round" stroke-linejoin="round"/>
<path d="M339.19,23.08 L339.21,24.83 L339.22,26.58 L339.24,28.34 L339.25,30.10 L339.27,31.86 L339.28,33.63 L339.29,35.39 L339.31,37.16 L339.32,38.93 L339.34,40.71 L339.35,42.48 L339.37,44.26 L339.39,46.04 L339.40,47.82 L339.42,49.61" fill="none" stroke="#009200" stroke-width="4.20" stroke-linecap="round" stroke-linejoin="round"/>
<path d="M339.42,49.61 L339.44,51.39 L339.46,53.18 L339.47,54.97 L339.49,56.76 L339.51,58.55 L339.53,60.34 L339.56,62.14 L339.58,63.93 L339.60,65.73 L339.63,67.53 L339.65,69.33 L339.68,71.12 L339.71,72.92 L339.74,74.72 L339.77,76.52" fill="none" stroke="#009200" stroke-width="4.20" stroke-linecap="round" stroke-linejoin="round"/>
<path d="M339.77,76.52 L339.80,78.32 L339.84,80.13 L339.87,81.93 L339.91,83.73 L339.95,85.53 L339.99,87.33 L340.03,89.13 L340.07,90.93 L340.12,92.73 L340.17,94.54 L340.22,96.33 L340.27,98.13 L340.32,99.93 L340.38,101.73 L340.43,103.53" fill="none" stroke="#009200" stroke-width="4.20" stroke-linecap="round" stroke-linejoin="round"/>
<path d="M340.43,103.53 L340.49,105.32 L340.56,107.12 L340.62,108.91 L340.69,110.70 L340.76,112.50 L340.83,114.29 L340.90,116.07 L340.98,117.86 L341.06,119.65 L341.14,121.43 L341.22,123.21 L341.31,124.99 L341.40,126.77 L341.50,128.54 L341.59,130.32" fill="none" stroke="#009200" stroke-width="4.20" stroke-linecap="round" stroke-linejoin="round"/>
<path d="M341.59,130.32 L341.69,132.09 L341.80,133.86 L341.90,135.62 L342.01,137.39 L342.12,139.15 L342.24,140.91 L342.36,142.66 L342.48,144.41 L342.61,146.17 L342.74,147.92 L342.87,149.66 L343.02,151.41 L343.16,153.16 L343.31,154.91 L343.47,156.66" fill="none" stroke="#009200" stroke-width="4.20" stroke-linecap="round" stroke-linejoin="round"/>
<path d="M343.47,156.66 L343.64,158.41 L343.81,160.16 L343.98,161.91 L344.17,163.66 L344.36,165.42 L344.56,167.18 L344.77,168.94 L344.99,170.70 L345.21,172.47 L345.45,174.24 L345.69,176.02 L345.94,177.80 L346.21,179.59 L346.48,181.38 L346.76,183.18" fill="none" stroke="#009200" stroke-width="4.20" stroke-linecap="round" stroke-linejoin="round"/>
<path d="M346.76,183.18 L347.06,184.99 L347.36,186.80 L347.68,188.62 L348.01,190.45 L348.35,192.28 L348.70,194.13 L349.07,195.98 L349.46,197.83 L349.87,199.68 L350.31,201.51 L350.80,203.31 L351.34,205.07 L351.93,206.79 L352.59,208.46 L353.32,210.06" fill="none" stroke="#009200" stroke-width="4.20" stroke-linecap="round" stroke-linejoin="round"/>
<path d="M353.32,210.06 L354.13,211.59 L355.03,213.03 L356.03,214.38 L357.13,215.63 L358.34,216.76 L359.64,217.78 L361.04,218.65 L362.51,219.38 L364.06,219.95 L365.66,220.36 L367.31,220.58 L369.00,220.63 L370.71,220.52 L372.44,220.27 L374.18,219.91" fill="none" stroke="#009200" stroke-width="4.20" stroke-linecap="round" stroke-linejoin="round"/>
<path d="M374.18,219.91 L375.91,219.43 L377.63,218.87 L379.32,218.24 L380.98,217.55 L382.63,216.80 L384.25,216.01 L385.86,215.19 L387.45,214.33 L389.04,213.45 L390.62,212.57 L392.20,211.67 L393.77,210.78 L395.35,209.89 L396.93,209.00 L398.50,208.12" fill="none" stroke="#009200" stroke-width="4.20" stroke-linecap="round" stroke-linejoin="round"/>
<path d="M398.50,208.12 L400.08,207.24 L401.66,206.37 L403.24,205.50 L404.82,204.63 L406.41,203.77 L407.99,202.92 L409.58,202.07 L411.16,201.23 L412.75,200.39 L414.34,199.56 L415.94,198.74 L417.53,197.92 L419.13,197.11 L420.73,196.31 L422.33,195.52" fill="none" stroke="#009200" stroke-width="4.20" stroke-linecap="round" stroke-linejoin="round"/>
<path d="M422.33,195.52 L423.93,194.73 L425.54,193.96 L427.15,193.19 L428.77,192.43 L430.38,191.69 L432.00,190.95 L433.63,190.22 L435.25,189.50 L436.88,188.80 L438.52,188.10 L440.16,187.42 L441.80,186.75 L443.45,186.09 L445.10,185.44 L446.75,184.80" fill="none" stroke="#009200" stroke-width="4.10" stroke-linecap="round" stroke-linejoin="round"/>
<path d="M446.75,184.80 L448.42,184.18 L450.08,183.57 L451.75,182.98 L453.43,182.39 L455.11,181.83 L456.79,181.27 L458.48,180.74 L460.18,180.21 L461.88,179.70 L463.59,179.21 L465.31,178.73 L467.03,178.27 L468.75,177.83 L470.48,177.39 L472.22,176.98" fill="none" stroke="#009200" stroke-width="3.94" stroke-linecap="round" stroke-linejoin="round"/>
<path d="M472.22,176.98 L473.96,176.58 L475.70,176.19 L477.45,175.82 L479.20,175.46 L480.96,175.12 L482.71,174.79 L484.48,174.47 L486.24,174.17 L488.01,173.88 L489.78,173.61 L491.56,173.35 L493.33,173.11 L495.11,172.87 L496.89,172.65 L498.68,172.45" fill="none" stroke="#009200" stroke-width="3.77" stroke-linecap="round" stroke-linejoin="round"/>
<path d="M498.68,172.45 L500.46,172.25 L502.25,172.07 L504.03,171.90 L505.82,171.75 L507.61,171.61 L509.40,171.48 L511.18,171.36 L512.97,171.25 L514.76,171.16 L516.55,171.08 L518.34,171.01 L520.13,170.95 L521.91,170.90 L523.70,170.86 L525.48,170.84" fill="none" stroke="#009200" stroke-width="3.59" stroke-linecap="round" stroke-linejoin="round"/>
<path d="M525.48,170.84 L527.26,170.83 L529.04,170.82 L530.82,170.83 L532.60,170.85 L534.37,170.88 L536.14,170.92 L537.91,170.97 L539.68,171.03 L541.44,171.10" fill="none" stroke="#009200" stroke-width="3.45" stroke-linecap="round" stroke-linejoin="round"/>
<circle cx="347.98" cy="23.40" r="1.95" fill="#ff0000"/><circle cx="348.18" cy="28.10" r="1.95" fill="#ff0000"/><circle cx="348.41" cy="32.56" r="1.95" fill="#ff0000"/><circle cx="348.67" cy="36.81" r="1.95" fill="#ff0000"/><circle cx="348.95" cy="40.84" r="1.95" fill="#ff0000"/><circle cx="349.25" cy="44.66" r="1.95" fill="#ff0000"/><circle cx="349.56" cy="48.30" r="1.95" fill="#ff0000"/><circle cx="349.88" cy="51.76" r="1.95" fill="#ff0000"/><circle cx="350.21" cy="55.04" r="1.95" fill="#ff0000"/><circle cx="350.53" cy="58.16" r="1.95" fill="#ff0000"/><circle cx="350.85" cy="61.12" r="1.95" fill="#ff0000"/><circle cx="351.17" cy="63.93" r="1.95" fill="#ff0000"/><circle cx="351.48" cy="66.61" r="1.95" fill="#ff0000"/><circle cx="351.78" cy="69.15" r="1.95" fill="#ff0000"/><circle cx="352.07" cy="71.56" r="1.95" fill="#ff0000"/><circle cx="352.36" cy="73.85" r="1.95" fill="#ff0000"/><circle cx="352.63" cy="76.03" r="1.95" fill="#ff0000"/><circle cx="352.89" cy="78.10" r="1.95" fill="#ff0000"/><circle cx="353.15" cy="80.06" r="1.95" fill="#ff0000"/><circle cx="353.39" cy="81.96" r="1.95" fill="#ff0000"/><circle cx="353.64" cy="83.86" r="1.95" fill="#ff0000"/>
<path d="M351.92,70.30 L352.09,71.72 L352.27,73.15 L352.45,74.57 L352.63,76.00 L352.81,77.43 L352.99,78.87 L353.18,80.31 L353.37,81.75 L353.55,83.20 L353.74,84.65 L353.93,86.10 L354.13,87.56 L354.32,89.02 L354.52,90.49 L354.73,91.96 L354.94,93.43 L355.16,94.90 L355.39,96.36 L355.62,97.83 L355.87,99.29 L356.14,100.75 L356.41,102.20 L356.71,103.65 L357.01,105.08 L357.34,106.52 L357.68,107.94 L358.05,109.35 L358.44,110.75 L358.84,112.14 L359.28,113.52 L359.73,114.88 L360.22,116.23 L360.73,117.56 L361.27,118.87 L361.84,120.17 L362.44,121.45 L363.08,122.71 L363.75,123.95 L364.45,125.16 L365.19,126.35 L365.97,127.52 L366.78,128.67 L367.64,129.79 L368.53,130.88 L369.47,131.94 L370.46,132.96 L371.48,133.93 L372.55,134.83 L373.67,135.65 L374.83,136.38 L376.04,137.00 L377.30,137.51 L378.61,137.89 L379.96,138.14 L381.36,138.24 L382.80,138.21 L384.26,138.08 L385.74,137.85 L387.22,137.56 L388.69,137.20 L390.15,136.79 L391.61,136.34 L393.05,135.84 L394.47,135.31 L395.87,134.74 L397.26,134.16 L398.61,133.56 L399.94,132.95 L401.24,132.33 L402.53,131.69 L403.80,131.05 L405.05,130.39 L406.29,129.73 L407.52,129.06 L408.75,128.37 L409.97,127.69 L411.19,126.99 L412.41,126.29 L413.63,125.58 L414.87,124.86 L416.11,124.14 L417.36,123.42 L418.63,122.69 L419.92,121.96 L421.23,121.22 L422.57,120.49" fill="none" stroke="#ff0000" stroke-width="3.70" stroke-linecap="round" stroke-linejoin="round"/>
<path d="M425.27,118.33 L426.35,117.64 L427.44,116.95 L428.53,116.27 L429.62,115.59 L430.72,114.91 L431.82,114.24 L432.91,113.57" fill="none" stroke="#ff0000" stroke-width="3.78" stroke-linecap="round" stroke-linejoin="round"/>
<path d="M432.91,113.57 L434.02,112.91 L435.12,112.25 L436.22,111.60 L437.33,110.95 L438.44,110.30 L439.55,109.66 L440.67,109.03" fill="none" stroke="#ff0000" stroke-width="3.76" stroke-linecap="round" stroke-linejoin="round"/>
<path d="M440.67,109.03 L441.79,108.40 L442.90,107.77 L444.02,107.14 L445.15,106.53 L446.27,105.91 L447.40,105.30 L448.53,104.69" fill="none" stroke="#ff0000" stroke-width="3.74" stroke-linecap="round" stroke-linejoin="round"/>
<path d="M448.53,104.69 L449.66,104.09 L450.79,103.49 L451.93,102.90 L453.06,102.31 L454.20,101.72 L455.34,101.14 L456.49,100.56" fill="none" stroke="#ff0000" stroke-width="3.72" stroke-linecap="round" stroke-linejoin="round"/>
<path d="M456.49,100.56 L457.63,99.99 L458.78,99.42 L459.93,98.85 L461.08,98.29 L462.23,97.73 L463.38,97.17 L464.54,96.62" fill="none" stroke="#ff0000" stroke-width="3.70" stroke-linecap="round" stroke-linejoin="round"/>
<path d="M464.54,96.62 L465.69,96.08 L466.85,95.53 L468.02,94.99 L469.18,94.46 L470.34,93.93 L471.51,93.40 L472.68,92.87" fill="none" stroke="#ff0000" stroke-width="3.68" stroke-linecap="round" stroke-linejoin="round"/>
<path d="M472.68,92.87 L473.85,92.35 L475.02,91.84 L476.19,91.32 L477.37,90.81 L478.54,90.31 L479.72,89.80 L480.90,89.30" fill="none" stroke="#ff0000" stroke-width="3.66" stroke-linecap="round" stroke-linejoin="round"/>
<path d="M480.90,89.30 L482.08,88.81 L483.26,88.32 L484.45,87.83 L485.63,87.34 L486.82,86.86 L488.01,86.38 L489.20,85.91" fill="none" stroke="#ff0000" stroke-width="3.64" stroke-linecap="round" stroke-linejoin="round"/>
<path d="M489.20,85.91 L490.39,85.44 L491.58,84.97 L492.78,84.50 L493.97,84.04 L495.17,83.58 L496.37,83.13 L497.57,82.68" fill="none" stroke="#ff0000" stroke-width="3.62" stroke-linecap="round" stroke-linejoin="round"/>
<path d="M497.57,82.68 L498.77,82.23 L499.97,81.78 L501.18,81.34 L502.38,80.90 L503.59,80.47 L504.80,80.03 L506.01,79.60" fill="none" stroke="#ff0000" stroke-width="3.60" stroke-linecap="round" stroke-linejoin="round"/>
<path d="M506.01,79.60 L507.22,79.18 L508.43,78.75 L509.64,78.33 L510.86,77.92 L512.07,77.50 L513.29,77.09 L514.51,76.68" fill="none" stroke="#ff0000" stroke-width="3.58" stroke-linecap="round" stroke-linejoin="round"/>
<path d="M514.51,76.68 L515.73,76.28 L516.95,75.87 L518.17,75.47 L519.39,75.08 L520.61,74.68 L521.84,74.29 L523.06,73.90" fill="none" stroke="#ff0000" stroke-width="3.56" stroke-linecap="round" stroke-linejoin="round"/>
<path d="M523.06,73.90 L524.29,73.52 L525.52,73.13 L526.74,72.75 L527.97,72.38 L529.20,72.00 L530.44,71.63 L531.67,71.26" fill="none" stroke="#ff0000" stroke-width="3.53" stroke-linecap="round" stroke-linejoin="round"/>
<path d="M531.67,71.26 L532.90,70.89 L534.13,70.53 L535.37,70.17 L536.61,69.81 L537.84,69.45 L539.08,69.10 L540.32,68.75" fill="none" stroke="#ff0000" stroke-width="3.51" stroke-linecap="round" stroke-linejoin="round"/>
<path d="M540.32,68.75 L541.56,68.40" fill="none" stroke="#ff0000" stroke-width="3.50" stroke-linecap="round" stroke-linejoin="round"/>
</g>
<line x1="342.60" y1="165.92" x2="541.60" y2="53.60" stroke="#000" stroke-width="1.25" stroke-dasharray="4.8 3.5"/>
<line x1="343.60" y1="236.11" x2="541.50" y2="136.00" stroke="#000" stroke-width="1.25" stroke-dasharray="4.8 3.5"/>
<line x1="341.60" y1="291.21" x2="541.60" y2="174.50" stroke="#000" stroke-width="1.25" stroke-dasharray="4.8 3.5"/>
<line x1="340.40" y1="379.82" x2="541.50" y2="242.40" stroke="#000" stroke-width="1.25" stroke-dasharray="4.8 3.5"/>
<line x1="380.60" y1="102.00" x2="380.60" y2="125.20" stroke="#000" stroke-width="1.3" stroke-opacity="0.85" stroke-dasharray="1 1"/>
<path d="M378.00,124.20 L383.20,124.20 L380.60,133.80 Z" fill="#000"/>
<line x1="406.20" y1="91.00" x2="406.20" y2="117.80" stroke="#000" stroke-width="1.15"/>
<path d="M403.60,116.80 L408.80,116.80 L406.20,126.40 Z" fill="#000"/>
<line x1="458.20" y1="60.00" x2="458.20" y2="88.00" stroke="#000" stroke-width="1.3" stroke-dasharray="4.4 2.8"/>
<path d="M455.60,87.00 L460.80,87.00 L458.20,96.60 Z" fill="#000"/>
<line x1="367.20" y1="187.20" x2="367.20" y2="210.20" stroke="#000" stroke-width="1.3" stroke-opacity="0.85" stroke-dasharray="1 1"/>
<path d="M364.60,209.20 L369.80,209.20 L367.20,218.80 Z" fill="#000"/>
<line x1="385.80" y1="173.10" x2="385.80" y2="199.70" stroke="#000" stroke-width="1.15"/>
<path d="M383.20,198.70 L388.40,198.70 L385.80,208.30 Z" fill="#000"/>
<line x1="425.30" y1="158.00" x2="425.30" y2="184.80" stroke="#000" stroke-width="1.3" stroke-dasharray="4.4 2.8"/>
<path d="M422.70,183.80 L427.90,183.80 L425.30,193.40 Z" fill="#000"/>
<line x1="361.80" y1="239.00" x2="361.80" y2="265.70" stroke="#000" stroke-width="1.3" stroke-opacity="0.85" stroke-dasharray="1 1"/>
<path d="M359.20,264.70 L364.40,264.70 L361.80,274.30 Z" fill="#000"/>
<line x1="377.70" y1="231.00" x2="377.70" y2="258.50" stroke="#000" stroke-width="1.15"/>
<path d="M375.10,257.50 L380.30,257.50 L377.70,267.10 Z" fill="#000"/>
<line x1="395.20" y1="218.80" x2="395.20" y2="246.20" stroke="#000" stroke-width="1.3" stroke-dasharray="4.4 2.8"/>
<path d="M392.60,245.20 L397.80,245.20 L395.20,254.80 Z" fill="#000"/>
<line x1="355.90" y1="325.00" x2="355.90" y2="351.50" stroke="#000" stroke-width="1.3" stroke-opacity="0.85" stroke-dasharray="1 1"/>
<path d="M353.30,350.50 L358.50,350.50 L355.90,360.10 Z" fill="#000"/>
<line x1="374.20" y1="316.00" x2="374.20" y2="343.00" stroke="#000" stroke-width="1.15"/>
<path d="M371.60,342.00 L376.80,342.00 L374.20,351.60 Z" fill="#000"/>
<line x1="392.60" y1="303.20" x2="392.60" y2="330.60" stroke="#000" stroke-width="1.3" stroke-dasharray="4.4 2.8"/>
<path d="M390.00,329.60 L395.20,329.60 L392.60,339.20 Z" fill="#000"/>
<circle cx="177.4" cy="81.7" r="5.2" fill="#000000"/>
<circle cx="177.4" cy="99.9" r="5.2" fill="#0000ff"/>
<circle cx="177.4" cy="117.9" r="5.2" fill="#009200"/>
<circle cx="177.4" cy="136.0" r="5.2" fill="#ff0000"/>
<g font-family="Liberation Sans, sans-serif">
<text x="61.05" y="401.60" font-size="16.00" fill="#000" xml:space="preserve">0</text>
<path transform="translate(120.16 401.60) scale(0.00781 -0.00781)" d="M763 0H583V1147Q518 1085 412.5 1023T223 930V1104Q373 1174 485 1274T644 1466H763Z" fill="#000"/>
<text x="129.05" y="401.60" font-size="16.00" fill="#000" xml:space="preserve">00</text>
<text x="188.16" y="401.60" font-size="16.00" fill="#000" xml:space="preserve">200</text>
<text x="256.16" y="401.60" font-size="16.00" fill="#000" xml:space="preserve">300</text>
<text x="150.50" y="432.40" font-size="16.00" text-anchor="start" fill="#000" ><tspan font-style="italic">T</tspan> (K)</text>
<path transform="translate(48.90 28.80) scale(0.00781 -0.00781)" d="M763 0H583V1147Q518 1085 412.5 1023T223 930V1104Q373 1174 485 1274T644 1466H763Z" fill="#000"/>
<text x="35.86" y="160.80" font-size="16.00" fill="#000" xml:space="preserve">0.</text>
<path transform="translate(49.20 160.80) scale(0.00781 -0.00781)" d="M763 0H583V1147Q518 1085 412.5 1023T223 930V1104Q373 1174 485 1274T644 1466H763Z" fill="#000"/>
<text x="26.96" y="293.00" font-size="16.00" fill="#000" xml:space="preserve">0.0</text>
<path transform="translate(49.20 293.00) scale(0.00781 -0.00781)" d="M763 0H583V1147Q518 1085 412.5 1023T223 930V1104Q373 1174 485 1274T644 1466H763Z" fill="#000"/>
<text x="64.30" y="119.95" font-size="11.50" text-anchor="end" fill="#000" >2</text>
<text x="64.30" y="80.14" font-size="11.50" text-anchor="end" fill="#000" >4</text>
<text x="64.30" y="56.84" font-size="11.50" text-anchor="end" fill="#000" >6</text>
<text x="64.30" y="40.32" font-size="11.50" text-anchor="end" fill="#000" >8</text>
<text x="64.30" y="252.23" font-size="11.50" text-anchor="end" fill="#000" >2</text>
<text x="64.30" y="212.41" font-size="11.50" text-anchor="end" fill="#000" >4</text>
<text x="64.30" y="189.12" font-size="11.50" text-anchor="end" fill="#000" >6</text>
<text x="64.30" y="172.59" font-size="11.50" text-anchor="end" fill="#000" >8</text>
<text x="64.30" y="384.50" font-size="11.50" text-anchor="end" fill="#000" >2</text>
<text x="64.30" y="344.68" font-size="11.50" text-anchor="end" fill="#000" >4</text>
<text x="64.30" y="321.39" font-size="11.50" text-anchor="end" fill="#000" >6</text>
<text x="64.30" y="304.86" font-size="11.50" text-anchor="end" fill="#000" >8</text>
<text x="8.20" y="33.30" font-size="16.00" text-anchor="start" fill="#000" >(a)</text>
<text x="18.60" y="201.80" font-size="16.00" text-anchor="middle" fill="#000" transform="rotate(-90 18.6 201.8)">ρ (Ωcm)</text>
<text x="137.30" y="62.90" font-size="16.00" text-anchor="start" fill="#000" >Ca<tspan font-size="11.5" dy="4.2">3</tspan><tspan dy="-4.2">Co</tspan><tspan font-size="11.5" dy="4.2">4-<tspan font-style="italic">x</tspan></tspan><tspan dy="-4.2">Sn</tspan><tspan font-size="11.5" dy="4.2"><tspan font-style="italic">x</tspan></tspan><tspan dy="-4.2">O</tspan><tspan font-size="11.5" dy="4.2">9</tspan></text>
<text x="195.40" y="86.20" font-size="16.00" fill="#000" xml:space="preserve"><tspan font-style="italic">x</tspan> = 0</text>
<text x="195.40" y="104.40" font-size="16.00" fill="#000" xml:space="preserve"><tspan font-style="italic">x</tspan> = 0.</text>
<path transform="translate(234.98 104.40) scale(0.00781 -0.00781)" d="M763 0H583V1147Q518 1085 412.5 1023T223 930V1104Q373 1174 485 1274T644 1466H763Z" fill="#000"/>
<text x="195.40" y="122.40" font-size="16.00" fill="#000" xml:space="preserve"><tspan font-style="italic">x</tspan> = 0.2</text>
<text x="195.40" y="140.50" font-size="16.00" fill="#000" xml:space="preserve"><tspan font-style="italic">x</tspan> = 0.3</text>
<text x="337.50" y="401.70" font-size="16.00" text-anchor="middle" fill="#000" >0</text>
<text x="382.83" y="401.70" font-size="16.00" text-anchor="middle" fill="#000" >20</text>
<text x="428.17" y="401.70" font-size="16.00" text-anchor="middle" fill="#000" >40</text>
<text x="473.50" y="401.70" font-size="16.00" text-anchor="middle" fill="#000" >60</text>
<text x="488.60" y="407.60" font-size="16.00" fill="#000" xml:space="preserve">80 x </text>
<path transform="translate(523.29 407.60) scale(0.00781 -0.00781)" d="M763 0H583V1147Q518 1085 412.5 1023T223 930V1104Q373 1174 485 1274T644 1466H763Z" fill="#000"/>
<text x="532.18" y="407.60" font-size="16.00" fill="#000" xml:space="preserve">0</text>
<text x="542.60" y="396.60" font-size="11.50" text-anchor="start" fill="#000" >3</text>
<text x="415.90" y="433.00" font-size="16.00" text-anchor="start" fill="#000" ><tspan font-style="italic">T</tspan><tspan font-size="11.5" dy="-11.2">2</tspan><tspan dy="11.2"> (K</tspan><tspan font-size="11.5" dy="-11.2">2</tspan><tspan dy="11.2">)</tspan></text>
<text x="322.70" y="386.10" font-size="16.00" fill="#000" xml:space="preserve">4</text>
<text x="322.70" y="296.85" font-size="16.00" fill="#000" xml:space="preserve">6</text>
<text x="322.70" y="207.60" font-size="16.00" fill="#000" xml:space="preserve">8</text>
<path transform="translate(313.81 118.35) scale(0.00781 -0.00781)" d="M763 0H583V1147Q518 1085 412.5 1023T223 930V1104Q373 1174 485 1274T644 1466H763Z" fill="#000"/>
<text x="322.70" y="118.35" font-size="16.00" fill="#000" xml:space="preserve">0</text>
<path transform="translate(313.81 29.10) scale(0.00781 -0.00781)" d="M763 0H583V1147Q518 1085 412.5 1023T223 930V1104Q373 1174 485 1274T644 1466H763Z" fill="#000"/>
<text x="322.70" y="29.10" font-size="16.00" fill="#000" xml:space="preserve">2</text>
<text x="283.40" y="35.20" font-size="16.00" text-anchor="start" fill="#000" >(b)</text>
<text x="298.40" y="201.60" font-size="16.00" text-anchor="middle" fill="#000" transform="rotate(-90 298.4 201.6)">ρ (mΩcm)</text>
<text x="467.70" y="112.00" font-size="16.00" text-anchor="start" fill="#ff0000" ><tspan font-style="italic">x</tspan> = 0.3</text>
<text x="467.70" y="147.20" font-size="16.00" text-anchor="start" fill="#0c960c" ><tspan font-style="italic">x</tspan> = 0.2</text>
<text x="467.70" y="251.80" font-size="16.00" fill="#1c1cff" xml:space="preserve"><tspan font-style="italic">x</tspan> = 0.</text>
<path transform="translate(507.28 251.80) scale(0.00781 -0.00781)" d="M763 0H583V1147Q518 1085 412.5 1023T223 930V1104Q373 1174 485 1274T644 1466H763Z" fill="#1c1cff"/>
<text x="475.20" y="324.10" font-size="16.00" text-anchor="start" fill="#000" ><tspan font-style="italic">x</tspan> = 0</text>
<text x="427.40" y="359.40" font-size="16.00" text-anchor="start" fill="#000" >Ca<tspan font-size="11.5" dy="4.2">3</tspan><tspan dy="-4.2">Co</tspan><tspan font-size="11.5" dy="4.2">4-<tspan font-style="italic">x</tspan></tspan><tspan dy="-4.2">Sn</tspan><tspan font-size="11.5" dy="4.2"><tspan font-style="italic">x</tspan></tspan><tspan dy="-4.2">O</tspan><tspan font-size="11.5" dy="4.2">9</tspan></text>
<text x="378.70" y="165.50" font-size="16.00" text-anchor="start" fill="#000" ><tspan font-style="italic">T</tspan><tspan font-size="11.5" dy="3.4" dx="-0.8" letter-spacing="0.75">SDW</tspan></text>
<text x="389.00" y="154.00" font-size="11.00" text-anchor="start" fill="#000" >on</text>
<text x="419.90" y="151.50" font-size="16.00" text-anchor="start" fill="#000" ><tspan font-style="italic">T</tspan>*</text>
<text x="354.50" y="180.20" font-size="16.00" text-anchor="start" fill="#000" ><tspan font-style="italic">T</tspan><tspan font-size="11.5" dy="4.1" dx="-0.5">min</tspan></text>
</g>
</svg>
</body></html>
